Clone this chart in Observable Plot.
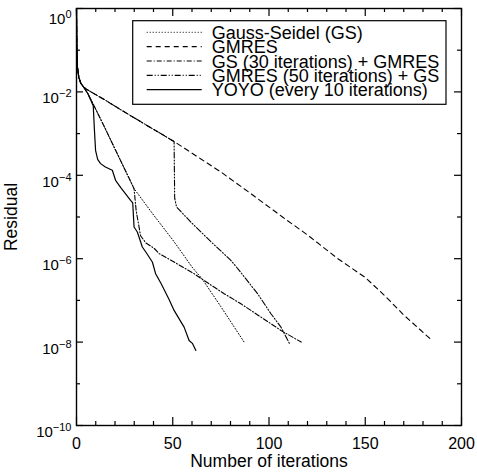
<!DOCTYPE html>
<html>
<head>
<meta charset="utf-8">
<script src="https://cdn.jsdelivr.net/npm/d3@7"></script>
<script src="https://cdn.jsdelivr.net/npm/@observablehq/plot@0.6"></script>
<style>
  html, body { margin: 0; padding: 0; background: white; }
  svg { display: block; }
</style>
</head>
<body>
<script>
// ---- Data (residual given as log10 exponent) ----
const seriesNames = [
  "Gauss-Seidel (GS)",
  "GMRES",
  "GS (30 iterations) + GMRES",
  "GMRES (50 iterations) + GS",
  "YOYO (every 10 iterations)"
];

const gsIter = [0, 0.2, 0.4, 1.2, 2.2, 3.8, 6, 8.2, 14.2, 20, 25, 29.9, 40, 50, 54.2, 60, 65.5, 75, 87.5];
const gsLog  = [0, -1.0, -1.37, -1.65, -1.79, -1.89, -2.05, -2.25, -2.81, -3.37, -3.85, -4.32, -4.95, -5.55, -5.82, -6.2, -6.5, -7.15, -8.03];

const gmresIter = [0, 0.2, 0.4, 1.2, 2.2, 3.8, 6.4, 15, 23.8, 35, 50.7, 65, 75, 90, 107, 120, 135.8, 150, 160, 170, 184.7];
const gmresLog  = [0, -1.0, -1.37, -1.65, -1.79, -1.89, -1.97, -2.2, -2.45, -2.76, -3.19, -3.62, -3.92, -4.42, -5.0, -5.43, -6.0, -6.45, -6.88, -7.35, -7.96];

const gs30Iter = [0, 0.2, 0.4, 1.2, 2.2, 3.8, 6, 8.2, 14.2, 20, 25, 29.9, 31, 33.3, 36, 40.3, 43, 50.7, 61.1, 65.5, 76.7, 85.4, 95.8, 106.2, 116.7];
const gs30Log  = [0, -1.0, -1.37, -1.65, -1.79, -1.89, -2.05, -2.25, -2.81, -3.37, -3.85, -4.32, -4.85, -5.45, -5.62, -5.75, -5.88, -6.08, -6.36, -6.5, -6.84, -7.08, -7.4, -7.72, -8.0];

const gm50Iter = [0, 0.2, 0.4, 1.2, 2.2, 3.8, 6.4, 15, 23.8, 35, 50.7, 51.0, 52, 60, 70, 80.2, 84.5, 94.1, 101, 106.2, 110.6];
const gm50Log  = [0, -1.0, -1.37, -1.65, -1.79, -1.89, -1.97, -2.2, -2.45, -2.76, -3.19, -4.55, -4.76, -5.15, -5.6, -6.04, -6.28, -6.84, -7.32, -7.64, -8.03];

const yoyoIter = [0, 0.2, 0.4, 1.2, 2.2, 3.8, 6, 8.7, 9.3, 9.9, 11, 12.5, 15, 18.6, 20.3, 22.9, 28.1, 29.2, 29.9, 31.6, 34.2, 36, 39.4, 41.1, 44, 48.1, 50.7, 55.9, 58.5, 60.2, 62];
const yoyoLog  = [0, -1.0, -1.37, -1.65, -1.79, -1.89, -2.05, -2.33, -2.9, -3.4, -3.62, -3.72, -3.8, -3.88, -4.12, -4.29, -4.6, -4.66, -5.24, -5.36, -5.72, -5.84, -6.08, -6.36, -6.6, -6.98, -7.24, -7.64, -7.96, -8.03, -8.2];

const xMajorTicks = [0, 50, 100, 150, 200];
const xMinorTicks = [10, 20, 30, 40, 60, 70, 80, 90, 110, 120, 130, 140, 160, 170, 180, 190];
const yMajorExp = [0, -2, -4, -6, -8, -10];
const yMinorExp = [-1, -3, -5, -7, -9];

const xLabel = "Number of iterations";
const yLabel = "Residual";

// ---- Build ----
const toRows = (xs, ls) => xs.map((x, i) => ({x, y: 10 ** ls[i]}));
const series = [
  {rows: toRows(gsIter, gsLog), dash: "1,2", width: 1},
  {rows: toRows(gmresIter, gmresLog), dash: "5,4", width: 1.1},
  {rows: toRows(gs30Iter, gs30Log), dash: "5,2,1,2", width: 1.1},
  {rows: toRows(gm50Iter, gm50Log), dash: "6,2,1,2,1,2", width: 1.1},
  {rows: toRows(yoyoIter, yoyoLog), dash: null, width: 1.2}
];

const W = 477, H = 475, mL = 76, mR = 16, mT = 8, mB = 50;
const innerW = W - mL - mR, innerH = H - mT - mB;
const yMajor = yMajorExp.map(e => 10 ** e);
const yMinor = yMinorExp.map(e => 10 ** e);

const font = "'Liberation Sans', Arial, Helvetica, sans-serif";

const plot = Plot.plot({
  width: W, height: H,
  marginLeft: mL, marginRight: mR, marginTop: mT, marginBottom: mB,
  x: {domain: [0, 200]},
  y: {type: "log", domain: [1e-10, 1]},
  style: {fontFamily: font, fontSize: "16px", color: "black", background: "white"},
  marks: [
    ...series.map(s => Plot.line(s.rows, {
      x: "x", y: "y", stroke: "black", strokeWidth: s.width,
      strokeDasharray: s.dash ?? undefined, curve: "linear"
    })),
    // inward ticks, bottom & top
    Plot.ruleX(xMajorTicks, {x: d => d, insetTop: innerH - 8, stroke: "black", strokeWidth: 1.2}),
    Plot.ruleX(xMajorTicks, {x: d => d, insetBottom: innerH - 8, stroke: "black", strokeWidth: 1.2}),
    Plot.ruleX(xMinorTicks, {x: d => d, insetTop: innerH - 4, stroke: "black", strokeWidth: 1.2}),
    Plot.ruleX(xMinorTicks, {x: d => d, insetBottom: innerH - 4, stroke: "black", strokeWidth: 1.2}),
    // inward ticks, left & right
    Plot.ruleY(yMajor, {y: d => d, insetRight: innerW - 7, stroke: "black", strokeWidth: 1.2}),
    Plot.ruleY(yMajor, {y: d => d, insetLeft: innerW - 7, stroke: "black", strokeWidth: 1.2}),
    Plot.ruleY(yMinor, {y: d => d, insetRight: innerW - 4, stroke: "black", strokeWidth: 1.2}),
    Plot.ruleY(yMinor, {y: d => d, insetLeft: innerW - 4, stroke: "black", strokeWidth: 1.2}),
    Plot.frame({stroke: "black", strokeWidth: 1.4}),
    Plot.axisX({ticks: xMajorTicks, tickSize: 0, tickPadding: 12, label: null, fontSize: 16, tickFormat: d => String(d)}),
    Plot.axisY({ticks: yMajor, tickSize: 0, tickPadding: 5, label: null, fontSize: 15,
      tickFormat: d => "10^" + Math.round(Math.log10(d))}),
    Plot.text([xLabel], {text: d => d, frameAnchor: "bottom", lineAnchor: "middle", textAnchor: "middle", dy: 36, fontSize: 17.5, fill: "black"}),
    Plot.text([yLabel], {text: d => d, frameAnchor: "left", lineAnchor: "middle", textAnchor: "middle", dx: -65, rotate: -90, fontSize: 17.5, fill: "black"})
  ]
});

document.body.appendChild(plot);

// Superscript formatting of y tick labels
const svg = d3.select(plot);
svg.selectAll('g[aria-label="y-axis tick label"] text').each(function () {
  const t = d3.select(this);
  const txt = t.text();
  const m = txt.match(/^10\^(-?\d+)$/);
  if (!m) return;
  const exp = m[1].replace("-", "\u2212");
  t.text(null);
  t.attr("dy", exp === "0" ? "0.72em" : "0.45em");
  t.append("tspan").text("10");
  t.append("tspan").attr("dy", "-0.55em").attr("font-size", "11px").text(exp);
});

// Legend (inside plot area, top right)
const legend = svg.append("g")
  .attr("font-family", font).attr("font-size", 18).attr("fill", "black")
  .attr("text-anchor", "start");
legend.append("rect")
  .attr("x", 132.7).attr("y", 20.7).attr("width", 313.3).attr("height", 83.6)
  .attr("fill", "white").attr("stroke", "black").attr("stroke-width", 1.2);
seriesNames.forEach((name, i) => {
  const cy = 32.3 + i * 14.35;
  const ln = legend.append("line")
    .attr("x1", 146.7).attr("x2", 201.7).attr("y1", cy).attr("y2", cy)
    .attr("stroke", "black").attr("stroke-width", series[i].width);
  if (series[i].dash) ln.attr("stroke-dasharray", series[i].dash);
  legend.append("text").attr("x", 211.7).attr("y", cy + 6.5)
    .attr("text-anchor", "start").text(name);
});
</script>
</body>
</html>
